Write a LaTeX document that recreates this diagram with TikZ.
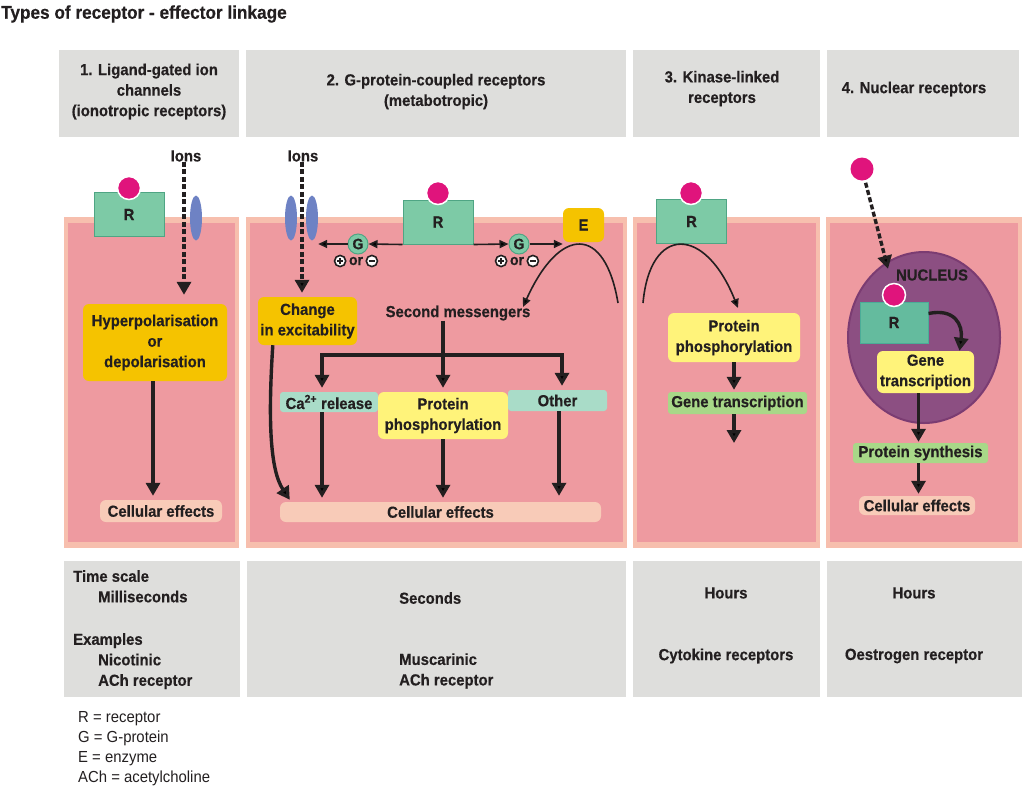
\documentclass[tikz,border=0pt]{standalone}
\usepackage{fontspec}
\setmainfont[FakeStretch=0.93, BoldFeatures={FakeBold=0.4}]{Liberation Sans}
\usetikzlibrary{arrows.meta,shapes.geometric}

\definecolor{hdrgray}{HTML}{DEDEDC}
\definecolor{cellpink}{HTML}{EE9AA0}
\definecolor{cellrim}{HTML}{F7BFAE}
\definecolor{recgreen}{HTML}{7DCAA6}
\definecolor{recedge}{HTML}{4FA584}
\definecolor{ligmag}{HTML}{E0147C}
\definecolor{chanblue}{HTML}{6E82C4}
\definecolor{boxorange}{HTML}{F5C300}
\definecolor{boxyellow}{HTML}{FFF37A}
\definecolor{boxteal}{HTML}{A9DCC8}
\definecolor{boxgreen}{HTML}{A8D888}
\definecolor{boxpeach}{HTML}{F8CBB8}
\definecolor{nucpurple}{HTML}{8C4F82}
\definecolor{nucedge}{HTML}{7B3C72}
\definecolor{inkdark}{HTML}{231F20}

% Signs below the G-proteins
\newcommand{\sgnplus}{\tikz[baseline=-4pt]{\draw[line width=1.6pt, fill=white] (0,0) circle (5.6pt); \draw[line width=1.4pt] (-3.3pt,0) -- (3.3pt,0) (0,-3.3pt) -- (0,3.3pt);}}
\newcommand{\sgnminus}{\tikz[baseline=-4pt]{\draw[line width=1.6pt, fill=white] (0,0) circle (5.6pt); \draw[line width=1.4pt] (-3.3pt,0) -- (3.3pt,0);}}

\tikzset{
  txt/.style={font=\bfseries\fontsize{16}{20.5}\selectfont, text=inkdark, align=center, inner sep=0pt},
  flowbox/.style={txt, rounded corners=6pt},
  recbox/.style={txt, fill=recgreen, draw=recedge, line width=1pt, minimum width=70pt, minimum height=44pt},
  ligand/.style={circle, fill=ligmag, draw=white, line width=1.5pt, minimum size=23pt, inner sep=0pt},
  chan/.style={ellipse, fill=chanblue, minimum width=12pt, minimum height=45pt, inner sep=0pt},
  gcirc/.style={circle, fill=recgreen, draw=recedge, line width=1pt, minimum size=20pt, inner sep=0pt, font=\bfseries\fontsize{15}{15}\selectfont, text=inkdark},
  thickarrow/.style={draw=inkdark, line width=3.4pt, -{Triangle[width=14pt,length=13pt]}},
  dasharrow/.style={thickarrow, dash pattern=on 5pt off 2.5pt},
  thinarrow/.style={draw=inkdark, line width=1.6pt, -{Triangle[width=8pt,length=9pt]}},
  thickline/.style={draw=inkdark, line width=3.4pt}
}

\begin{document}
\begin{tikzpicture}[x=1pt,y=-1pt]
\useasboundingbox (0,0) rectangle (1024,788);

% Title
\node[txt, anchor=west, font=\bfseries\fontsize{18.5}{20}\selectfont] (title) at (1,14) {Types of receptor - effector linkage};

% Headers
\foreach \xa/\xb in {59/239, 246/626, 633/820, 827/1019}
  \fill[hdrgray] (\xa,50) rectangle (\xb,137);
\node[txt] (hdr1) at (149,91.5) {1. Ligand-gated ion\\channels\\(ionotropic receptors)};
\node[txt] (hdr2) at (436,91.5) {2. G-protein-coupled receptors\\(metabotropic)};
\node[txt] (hdr3) at (722,88.5) {3. Kinase-linked\\receptors};
\node[txt] (hdr4) at (914,89) {4. Nuclear receptors};

% Cells
\foreach \xa/\xb in {64/239, 246/627, 633/820, 826/1022} {
  \fill[cellrim] (\xa,217) rectangle (\xb,548);
  \fill[cellpink] (\xa+4,223) rectangle (\xb-4,542);
}

% Bottom panels
\foreach \xa/\xb in {64/240, 247/626, 633/820, 827/1022}
  \fill[hdrgray] (\xa,561) rectangle (\xb,697);

% 1. Ligand-gated ion channels
\node[recbox] (rec1) at (129,214.5) {R};
\node[ligand] (lig1) at (129,188) {};
\node[txt] (ions1) at (186,156) {Ions};
\node[chan] (ch1) at (196,218) {};
\node[flowbox, fill=boxorange, minimum width=144pt, minimum height=77pt] (hyper) at (155,342.5) {Hyperpolarisation\\or\\depolarisation};
\node[flowbox, fill=boxpeach, minimum width=122pt, minimum height=22pt] (ce1) at (161,511) {Cellular effects};
\draw[dasharrow] ([xshift=-2pt]ions1.south) -- ([xshift=-2pt,yshift=9pt]ions1.south |- hyper.north);
\draw[thickarrow] ([xshift=-2pt]hyper.south) -- ([xshift=-2pt,yshift=4pt]hyper.south |- ce1.north);

% 2. G-protein-coupled receptors
\node[txt] (ions2) at (303,156) {Ions};
\node[chan] (ch2a) at (291,218) {};
\node[chan] (ch2b) at (312,218) {};
\node[recbox] (rec2) at (438,222) {R};
\node[ligand] (lig2) at (438,193) {};
\node[gcirc] (g1) at (358,244) {G};
\node[gcirc] (g2) at (519,244) {G};
\node[txt, font=\bfseries\fontsize{15}{15}\selectfont] (pm1) at (356,261) {\sgnplus\,or\,\sgnminus};
\node[txt, font=\bfseries\fontsize{15}{15}\selectfont] (pm2) at (517,261) {\sgnplus\,or\,\sgnminus};
\node[flowbox, fill=boxorange, minimum width=41pt, minimum height=34pt] (enz) at (583.5,225) {E};
\node[flowbox, fill=boxorange, minimum width=99pt, minimum height=48pt] (change) at (307.5,321) {Change\\in excitability};
\node[txt] (sm) at (458,313) {Second messengers};
\node[flowbox, fill=boxteal, rounded corners=3pt, minimum width=98pt, minimum height=20pt] (ca) at (329,402) {Ca\textsuperscript{2+} release};
\node[flowbox, fill=boxyellow, minimum width=130pt, minimum height=47pt] (pp2) at (443,415.5) {Protein\\phosphorylation};
\node[flowbox, fill=boxteal, rounded corners=3pt, minimum width=99pt, minimum height=21pt] (other) at (557.5,400.5) {Other};
\node[flowbox, fill=boxpeach, minimum width=321pt, minimum height=20pt] (ce2) at (440.5,512) {Cellular effects};
\coordinate (brL) at (322,355);
\coordinate (brR) at (562,355);
\coordinate (e0) at (618,303);
\coordinate (e1) at (523,307);
\draw[dasharrow] ([xshift=-1pt]ions2.south) -- ([xshift=-1pt,yshift=4pt]ions2.south |- change.north);
\draw[thinarrow] (rec2.south west) -- (g1.east);
\draw[thinarrow] (g1.west) -- (g1.west -| ch2b.east);
\draw[thinarrow] (rec2.south east) -- (g2.west);
\draw[thinarrow] (g2.east) -- (g2.east -| enz.west);
\draw[thinarrow] (e0) .. controls (605,225) and (560,225) .. (e1);
\draw[thickline] (pp2.north |- sm.south) -- (pp2.north |- brL);
\draw[thickline, line cap=rect] (brL) -- (brR);
\draw[thickarrow] (brL) -- ([yshift=4pt]brL |- ca.north);
\draw[thickarrow] (pp2.north |- brL) -- ([yshift=4pt]pp2.north);
\draw[thickarrow] (brR) -- ([yshift=4pt]brR |- other.north);
\draw[thickarrow] (brL |- ca.south) -- ([yshift=4pt]brL |- ce2.north);
\draw[thickarrow] (pp2.south) -- ([yshift=4pt]pp2.south |- ce2.north);
\draw[thickarrow] ([xshift=-3pt]brR |- other.south) -- ([xshift=-3pt,yshift=6pt]brR |- ce2.north);
\draw[thickarrow] ([xshift=15pt]change.south west) .. controls (268,420) and (270,470) .. ([xshift=10pt,yshift=2pt]ce2.north west);

% 3. Kinase-linked receptors
\node[recbox] (rec3) at (691.5,221.5) {R};
\node[ligand] (lig3) at (691,193) {};
\node[flowbox, fill=boxyellow, minimum width=132pt, minimum height=49pt] (pp3) at (734,337.5) {Protein\\phosphorylation};
\node[flowbox, fill=boxgreen, rounded corners=3pt, minimum width=139pt, minimum height=22pt] (gt3) at (737.5,403) {Gene transcription};
\coordinate (k0) at (643,303);
\coordinate (k1) at (738,308);
\coordinate (k2) at (734,443);
\draw[thinarrow] (k0) .. controls (650,225) and (705,225) .. (k1);
\draw[thickarrow] (pp3.south -| k2) -- ([yshift=2pt]gt3.north -| k2);
\draw[thickarrow] (gt3.south -| k2) -- (k2);

% 4. Nuclear receptors
\node[ellipse, fill=nucpurple, draw=nucedge, line width=2pt, minimum width=152pt, minimum height=171pt] (nuc) at (924,337.5) {};
\node[txt] (nuctxt) at (932,275) {NUCLEUS};
\node[ligand, draw=none] (lig4) at (862,169) {};
\node[recbox, fill=recgreen!80!teal, draw=recgreen!60!teal, minimum width=68pt, minimum height=41pt] (rec4) at (894,322.5) {R};
\node[ligand] (lig4b) at (894,295) {};
\node[flowbox, fill=boxyellow, minimum width=97pt, minimum height=42pt] (gt4) at (925.5,372) {Gene\\transcription};
\node[flowbox, fill=boxgreen, rounded corners=3pt, minimum width=135pt, minimum height=20pt] (ps4) at (920.5,453) {Protein synthesis};
\node[flowbox, fill=boxpeach, minimum width=116pt, minimum height=19pt] (ce4) at (917,505.5) {Cellular effects};
\draw[dasharrow, shorten <=2pt] (lig4) -- ([xshift=-6pt,yshift=14pt]lig4b.north);
\draw[thickarrow] ([yshift=9pt]rec4.east) .. controls (955,308) and (963,325) .. ([xshift=34pt]gt4.north);
\draw[thickarrow] ([xshift=-2pt]ps4.north |- gt4.south) -- ([xshift=-2pt,yshift=1pt]ps4.north);
\draw[thickarrow] ([xshift=-2pt]ps4.south) -- ([xshift=-2pt,yshift=2pt]ps4.south |- ce4.north);

% Time scale and examples
\node[txt, align=left, anchor=north west] (ex1) at (73,570) {Time scale\\\hspace*{25pt}Milliseconds\\[22pt]Examples\\\hspace*{25pt}Nicotinic\\\hspace*{25pt}ACh receptor};
\node[txt, anchor=west] (ts2) at (399,598) {Seconds};
\node[txt, align=left, anchor=west] (ex2) at (399,671) {Muscarinic\\ACh receptor};
\node[txt] (ts3) at (726,593) {Hours};
\node[txt] (ex3) at (726,656) {Cytokine receptors};
\node[txt] (ts4) at (914,593) {Hours};
\node[txt] (ex4) at (914,656) {Oestrogen receptor};

% Legend
\node[txt, font=\fontsize{16}{20}\selectfont, align=left, anchor=north west] (legend) at (78,711) {R = receptor\\G = G-protein\\E = enzyme\\ACh = acetylcholine};
\end{tikzpicture}
\end{document}
